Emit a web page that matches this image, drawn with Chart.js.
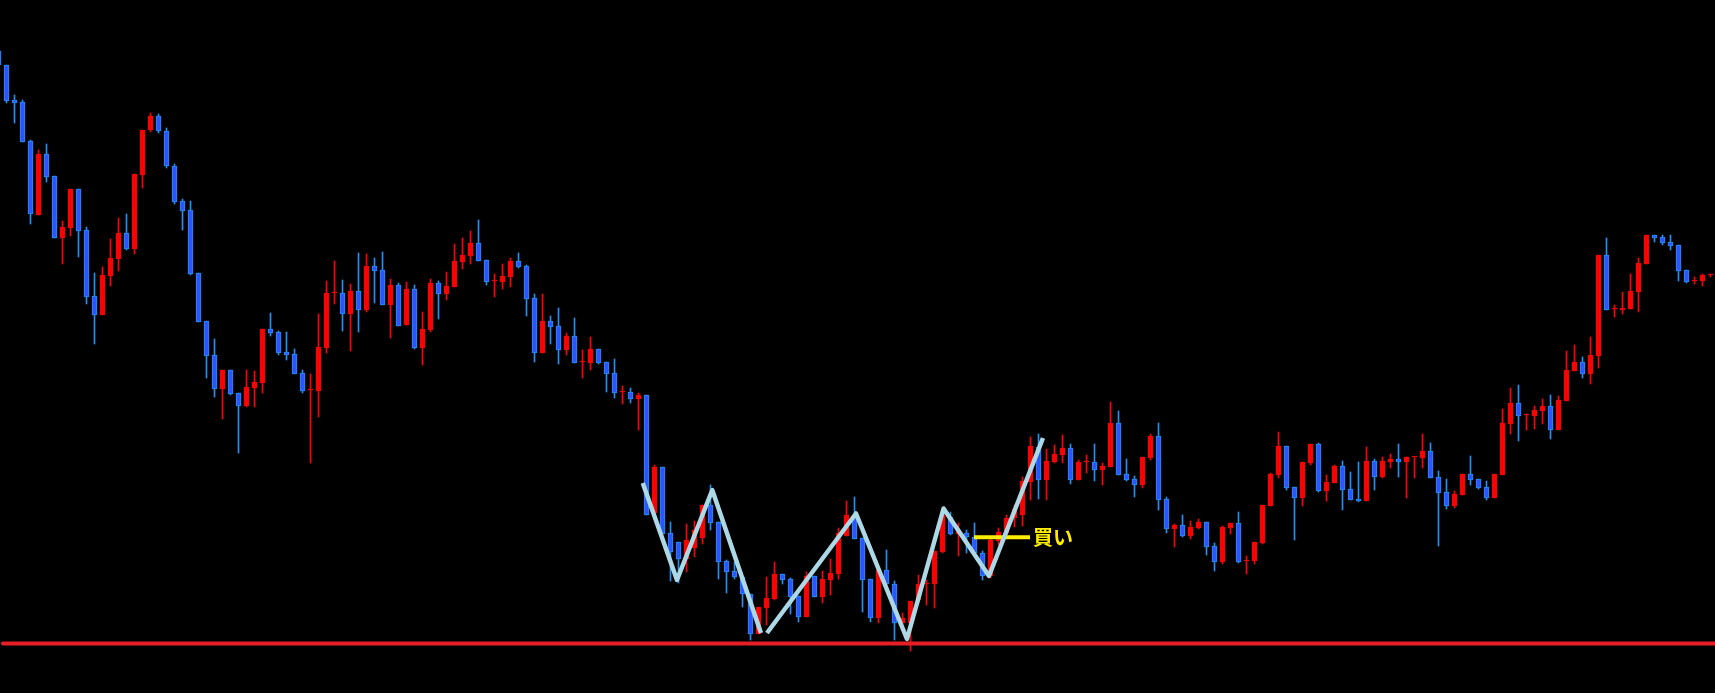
<!DOCTYPE html>
<html>
<head>
<meta charset="utf-8">
<script src="https://cdn.jsdelivr.net/npm/chart.js@4.4.1/dist/chart.umd.min.js"></script>
<style>
  html, body { margin: 0; padding: 0; background: #000; overflow: hidden; }
  #wrap { position: fixed; left: 0; top: 0; width: 1715px; height: 693px; }
</style>
</head>
<body>
<div id="wrap"><canvas id="priceChart"></canvas></div>
<script>
// Candle values (screen-style scale: smaller = higher price)
const opens = [51,65,100,102,141,215,154,176,238,228,189,230,296,315,276,259,233,249,175,130,116,131,166,201,210,273,321,355,389,370,393,406,388,383,329,332,352,354,373,390,391,348,293,293,314,291,310,266,270,305,285,325,289,348,330,283,294,287,262,256,243,260,281,282,277,261,266,298,353,321,326,350,336,362,363,349,362,373,392,392,399,395,513,467,533,542,559,548,538,505,522,561,571,577,594,634,608,599,574,579,596,617,576,597,580,574,536,515,538,579,618,570,584,623,623,600,584,584,552,517,534,533,537,553,576,541,533,518,515,482,447,480,462,455,448,480,462,462,470,467,423,474,479,485,458,436,499,529,525,536,528,522,546,562,528,523,561,561,543,506,475,446,487,498,463,444,491,483,466,489,499,501,461,477,462,459,462,457,458,451,477,492,506,495,474,479,487,498,475,424,403,415,416,411,406,430,401,371,362,374,356,255,309,310,309,292,264,235,237,242,245,270,281,281,275];
const highs = [51,65,95,100,140,150,144,176,221,189,189,227,273,267,239,218,214,174,130,113,114,128,164,199,201,273,321,339,370,370,393,370,371,329,313,331,332,349,370,374,314,281,261,280,284,253,254,258,252,279,283,282,285,312,279,281,272,244,238,231,220,260,274,264,258,253,265,294,294,316,308,333,318,350,337,349,362,359,386,388,393,395,465,467,522,542,524,521,505,485,522,560,562,577,594,607,577,562,574,578,596,572,576,571,559,528,501,497,538,579,570,550,581,613,601,575,580,551,510,512,523,530,523,551,536,528,515,505,477,437,434,449,445,435,444,460,455,444,463,402,411,459,476,457,434,423,497,524,515,521,519,522,543,526,523,512,556,542,505,473,432,446,487,462,444,443,475,465,461,472,462,447,459,457,454,444,457,457,434,443,471,479,491,474,456,479,481,474,409,388,385,414,406,399,395,396,351,345,357,337,255,238,305,292,274,258,235,235,235,235,245,270,277,274,274];
const lows = [65,103,123,142,224,215,182,238,264,236,257,304,344,315,286,271,250,254,188,132,133,168,204,230,275,322,378,397,419,395,453,407,407,393,336,355,360,374,393,463,417,353,304,331,351,332,312,303,305,338,326,325,349,365,332,319,300,287,269,264,261,285,297,289,287,268,316,362,353,344,364,355,363,378,370,364,392,398,404,403,430,515,515,534,581,583,572,557,544,530,579,593,579,607,640,634,625,600,584,614,622,617,597,603,595,579,536,539,612,622,623,590,640,624,651,603,605,608,553,535,556,553,555,580,578,545,535,527,526,500,499,500,463,463,484,480,473,481,485,467,475,481,497,488,460,510,533,547,537,539,529,555,571,564,534,563,574,564,544,506,478,490,540,506,465,492,501,483,510,500,502,501,490,478,468,477,498,478,468,478,546,509,508,495,485,489,500,498,475,434,441,430,429,424,439,430,401,371,378,384,368,310,317,314,309,312,264,242,245,250,281,283,284,286,277];
const closes = [65,101,103,142,214,154,177,238,227,189,231,297,315,275,258,233,249,174,130,116,131,166,202,211,274,322,356,389,370,394,406,387,382,329,333,353,355,374,391,390,347,293,293,314,291,310,266,271,305,285,326,289,348,329,283,294,286,261,255,243,261,282,281,276,261,267,299,353,321,327,350,336,363,362,349,363,374,393,392,399,395,515,467,534,552,559,540,530,505,523,562,572,577,594,634,607,598,574,580,597,617,576,597,579,573,533,515,539,580,618,570,584,623,618,601,584,584,551,515,534,530,537,553,576,540,532,518,509,481,446,480,461,454,448,480,462,462,470,466,423,475,480,485,457,436,500,529,525,536,527,522,547,562,527,523,562,561,542,505,474,446,488,498,462,444,491,482,466,490,500,501,461,477,461,459,462,457,457,451,478,493,506,494,474,480,488,498,474,423,403,416,415,410,406,430,400,370,362,374,355,255,310,309,308,291,263,235,238,243,246,271,282,281,275,275];

// Zigzag pattern line (x in candle index units, y on the same price scale; null = break)
const zigX = [80.53, 84.81, 89.22, 95.31, 95.7, 96.06, 107.19, 113.56, 118.13, 123.81, 130.56];
const zigY = [483, 580, 490, 633, null, 633, 513.5, 639, 508.5, 576, 438];

// Support line and buy marker
const supportLevel = 643.5;
const supportFrom = 0.56;
const buyLevel = 537.2;
const buyFrom = 121.94;
const buyTo = 128.94;
const buyLabel = '買い';

const UP_COLOR = '#ff0000';
const DOWN_FILL = '#3052ff';
const DOWN_EDGE = '#1e90ff';

const xMin = 0.1875;
const xMax = 214.5625;

function isUp(i) {
    return closes[i] <= opens[i];
}

function buildCandles() {
    const bodies = [];
    const wicks = [];
    const bodyFill = [];
    const bodyEdge = [];
    const wickColor = [];
    for (let i = 0; i < opens.length; i++) {
        bodies.push({ x: i, y: [opens[i], closes[i]] });
        wicks.push({ x: i, y: [highs[i], lows[i]] });
        const up = isUp(i);
        bodyFill.push(up ? UP_COLOR : DOWN_FILL);
        bodyEdge.push(up ? UP_COLOR : DOWN_EDGE);
        wickColor.push(up ? UP_COLOR : DOWN_EDGE);
    }
    return { bodies, wicks, bodyFill, bodyEdge, wickColor };
}

// draws the buy label next to the yellow marker
const buyLabelPlugin = {
    id: 'buyLabel',
    afterDatasetsDraw(chart) {
        const ctx = chart.ctx;
        const x = chart.scales.x.getPixelForValue(buyTo) + 3;
        const y = chart.scales.y.getPixelForValue(buyLevel);
        ctx.save();
        ctx.font = 'bold 20px "Noto Sans CJK JP", "Noto Sans", sans-serif';
        ctx.fillStyle = '#ffee00';
        ctx.textBaseline = 'middle';
        ctx.textAlign = 'left';
        ctx.fillText(buyLabel, x, y);
        ctx.restore();
    }
};

function initializeChart() {
    const c = buildCandles();
    const ctx = document.getElementById('priceChart').getContext('2d');

    new Chart(ctx, {
        data: {
            datasets: [
                {
                    type: 'line',
                    order: 1,
                    data: zigX.map((x, i) => ({ x: x, y: zigY[i] })),
                    borderColor: '#add8e6',
                    borderWidth: 4.5,
                    borderJoinStyle: 'round',
                    borderCapStyle: 'butt',
                    pointRadius: 0,
                    tension: 0,
                    spanGaps: false,
                    fill: false
                },
                {
                    type: 'line',
                    order: 2,
                    data: [{ x: buyFrom, y: buyLevel }, { x: buyTo, y: buyLevel }],
                    borderColor: '#ffee00',
                    borderWidth: 4,
                    pointRadius: 0,
                    fill: false
                },
                {
                    type: 'line',
                    order: 3,
                    data: [{ x: supportFrom, y: supportLevel }, { x: xMax, y: supportLevel }],
                    borderColor: '#e61e26',
                    borderWidth: 4,
                    borderCapStyle: 'round',
                    pointRadius: 0,
                    fill: false
                },
                {
                    type: 'bar',
                    order: 4,
                    data: c.bodies,
                    backgroundColor: c.bodyFill,
                    borderColor: c.bodyEdge,
                    borderWidth: 1,
                    borderSkipped: false,
                    barThickness: 5,
                    minBarLength: 1,
                    grouped: false
                },
                {
                    type: 'bar',
                    order: 5,
                    data: c.wicks,
                    backgroundColor: c.wickColor,
                    borderWidth: 0,
                    barThickness: 1,
                    minBarLength: 1,
                    grouped: false
                }
            ]
        },
        options: {
            responsive: true,
            maintainAspectRatio: false,
            animation: false,
            events: [],
            layout: { padding: 0 },
            plugins: {
                legend: { display: false },
                tooltip: { enabled: false }
            },
            scales: {
                x: {
                    type: 'linear',
                    min: xMin,
                    max: xMax,
                    offset: false,
                    display: false
                },
                y: {
                    type: 'linear',
                    reverse: true,
                    min: 0,
                    max: 693,
                    display: false
                }
            }
        },
        plugins: [buyLabelPlugin]
    });
}

document.addEventListener('DOMContentLoaded', initializeChart);
</script>
</body>
</html>
